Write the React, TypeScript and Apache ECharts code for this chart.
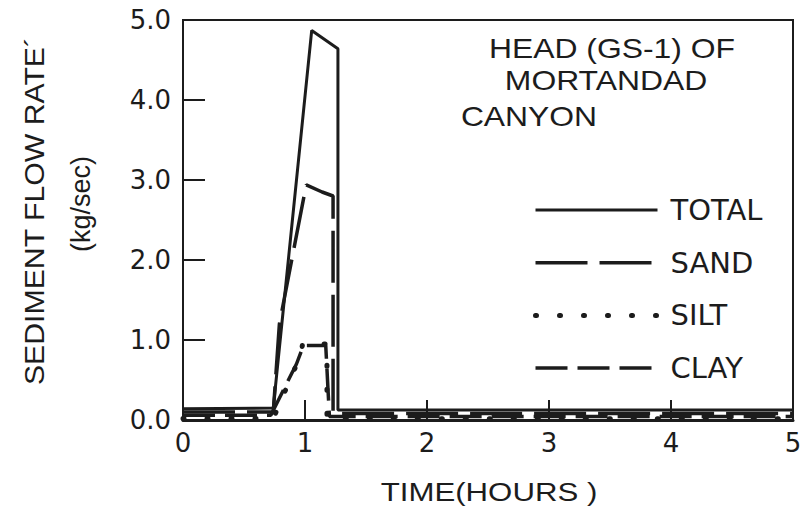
import React, { useEffect, useRef } from "react";
import * as echarts from "echarts";

// Sediment flow rate (kg/sec) against time (hours), [hours, kg/sec]
const totalFlow: [number, number][] = [
  [0, 0.14], [0.74, 0.15], [1.055, 4.87], [1.27, 4.64], [1.27, 0.125], [5, 0.125],
];
const sandFlow: [number, number][] = [
  [0, 0.1], [0.74, 0.1], [0.79, 1.2], [1.01, 2.94], [1.14, 2.85], [1.23, 2.8], [1.23, 0.08], [5, 0.08],
];
const siltFlow: [number, number][] = [
  [0, 0.02], [0.74, 0.02], [0.93, 0.69], [0.97, 0.85], [0.98, 0.95], [1.18, 0.95], [1.18, 0.015], [5, 0.015],
];
const clayFlow: [number, number][] = [
  [0, 0.06], [0.72, 0.06], [0.93, 0.7], [0.97, 0.86], [0.99, 0.93], [1.17, 0.93], [1.2, 0.045], [5, 0.045],
];

const seriesNames = ["TOTAL", "SAND", "SILT", "CLAY"];
const titleLines = ["HEAD (GS-1) OF", "MORTANDAD", "CANYON"];
const yAxisTitle = "SEDIMENT FLOW RATE\u00b4";
const yAxisUnits = "(kg/sec)";
const xAxisTitle = "TIME(HOURS )";

const INK = "#1c1c1c";
const SANS = '"Liberation Sans", Arial, sans-serif';
const WIDE = '"DejaVu Sans", sans-serif';

export default function App() {
  const ref = useRef<HTMLDivElement>(null);

  useEffect(() => {
    document.body.style.margin = "0";
    const chart = echarts.init(ref.current!, undefined, { renderer: "svg" });

    const line = (name: string, data: [number, number][], lineStyle: any, z: number) => ({
      name,
      type: "line",
      data,
      symbol: "none",
      showSymbol: false,
      clip: false,
      color: INK,
      lineStyle: { color: INK, ...lineStyle },
      z,
    });

    chart.setOption({
      animation: false,
      backgroundColor: "#ffffff",
      grid: {
        left: 183,
        right: 12,
        top: 20,
        bottom: 90,
        show: true,
        borderColor: INK,
        borderWidth: 2,
        backgroundColor: "transparent",
      },
      xAxis: {
        type: "value",
        min: 0,
        max: 5,
        interval: 1,
        axisLine: { show: true, onZero: false, lineStyle: { color: INK, width: 3 } },
        axisTick: { show: true, inside: true, length: 20, lineStyle: { color: INK, width: 2 } },
        splitLine: { show: false },
        axisLabel: {
          color: INK,
          fontFamily: WIDE,
          fontSize: 26,
          margin: 10,
          formatter: (v: number) => String(v),
        },
      },
      yAxis: {
        type: "value",
        min: 0,
        max: 5,
        interval: 1,
        axisLine: { show: true, lineStyle: { color: INK, width: 2 } },
        axisTick: { show: true, inside: true, length: 22, lineStyle: { color: INK, width: 2 } },
        splitLine: { show: false },
        axisLabel: {
          color: INK,
          fontFamily: WIDE,
          fontSize: 26,
          margin: 12,
          formatter: (v: number) => v.toFixed(1),
        },
      },
      legend: {
        orient: "vertical",
        left: 528,
        top: 190,
        itemWidth: 122,
        itemHeight: 14,
        itemGap: 22.7,
        selectedMode: false,
        data: seriesNames,
        // line only, no marker in the key; keep each series' own stroke
        itemStyle: { opacity: 0, borderWidth: 0 },
        lineStyle: { width: "inherit", cap: "inherit", type: "inherit" },
        textStyle: {
          color: INK,
          fontFamily: WIDE,
          fontSize: 29,
          lineHeight: 30,
          padding: [0, 0, 0, 8],
        },
      },
      graphic: [
        {
          type: "text",
          x: 612,
          y: 48,
          scaleX: 1.18,
          style: { text: titleLines[0], font: `27px ${SANS}`, fill: INK, align: "center", verticalAlign: "middle" },
        },
        {
          type: "text",
          x: 606,
          y: 80,
          scaleX: 1.18,
          style: { text: titleLines[1], font: `27px ${SANS}`, fill: INK, align: "center", verticalAlign: "middle" },
        },
        {
          type: "text",
          x: 529,
          y: 116,
          scaleX: 1.18,
          style: { text: titleLines[2], font: `27px ${SANS}`, fill: INK, align: "center", verticalAlign: "middle" },
        },
        {
          type: "text",
          x: 34,
          y: 211,
          rotation: Math.PI / 2,
          scaleX: 1.08,
          style: { text: yAxisTitle, font: `28px ${SANS}`, fill: INK, align: "center", verticalAlign: "middle" },
        },
        {
          type: "text",
          x: 81,
          y: 204,
          rotation: Math.PI / 2,
          style: { text: yAxisUnits, font: `27px ${SANS}`, fill: INK, align: "center", verticalAlign: "middle" },
        },
        {
          type: "text",
          x: 489,
          y: 492,
          scaleX: 1.2,
          style: { text: xAxisTitle, font: `26px ${SANS}`, fill: INK, align: "center", verticalAlign: "middle" },
        },
      ],
      series: [
        line(seriesNames[0], totalFlow, { width: 3, type: "solid" }, 5),
        line(seriesNames[1], sandFlow, { width: 3.5, type: [52, 12] }, 4),
        line(seriesNames[2], siltFlow, { width: 5, type: [1, 23], cap: "round" }, 3),
        line(seriesNames[3], clayFlow, { width: 3.5, type: [32, 10] }, 3),
      ],
    });

    return () => chart.dispose();
  }, []);

  return <div ref={ref} style={{ width: 805, height: 510, background: "#fff" }} />;
}
